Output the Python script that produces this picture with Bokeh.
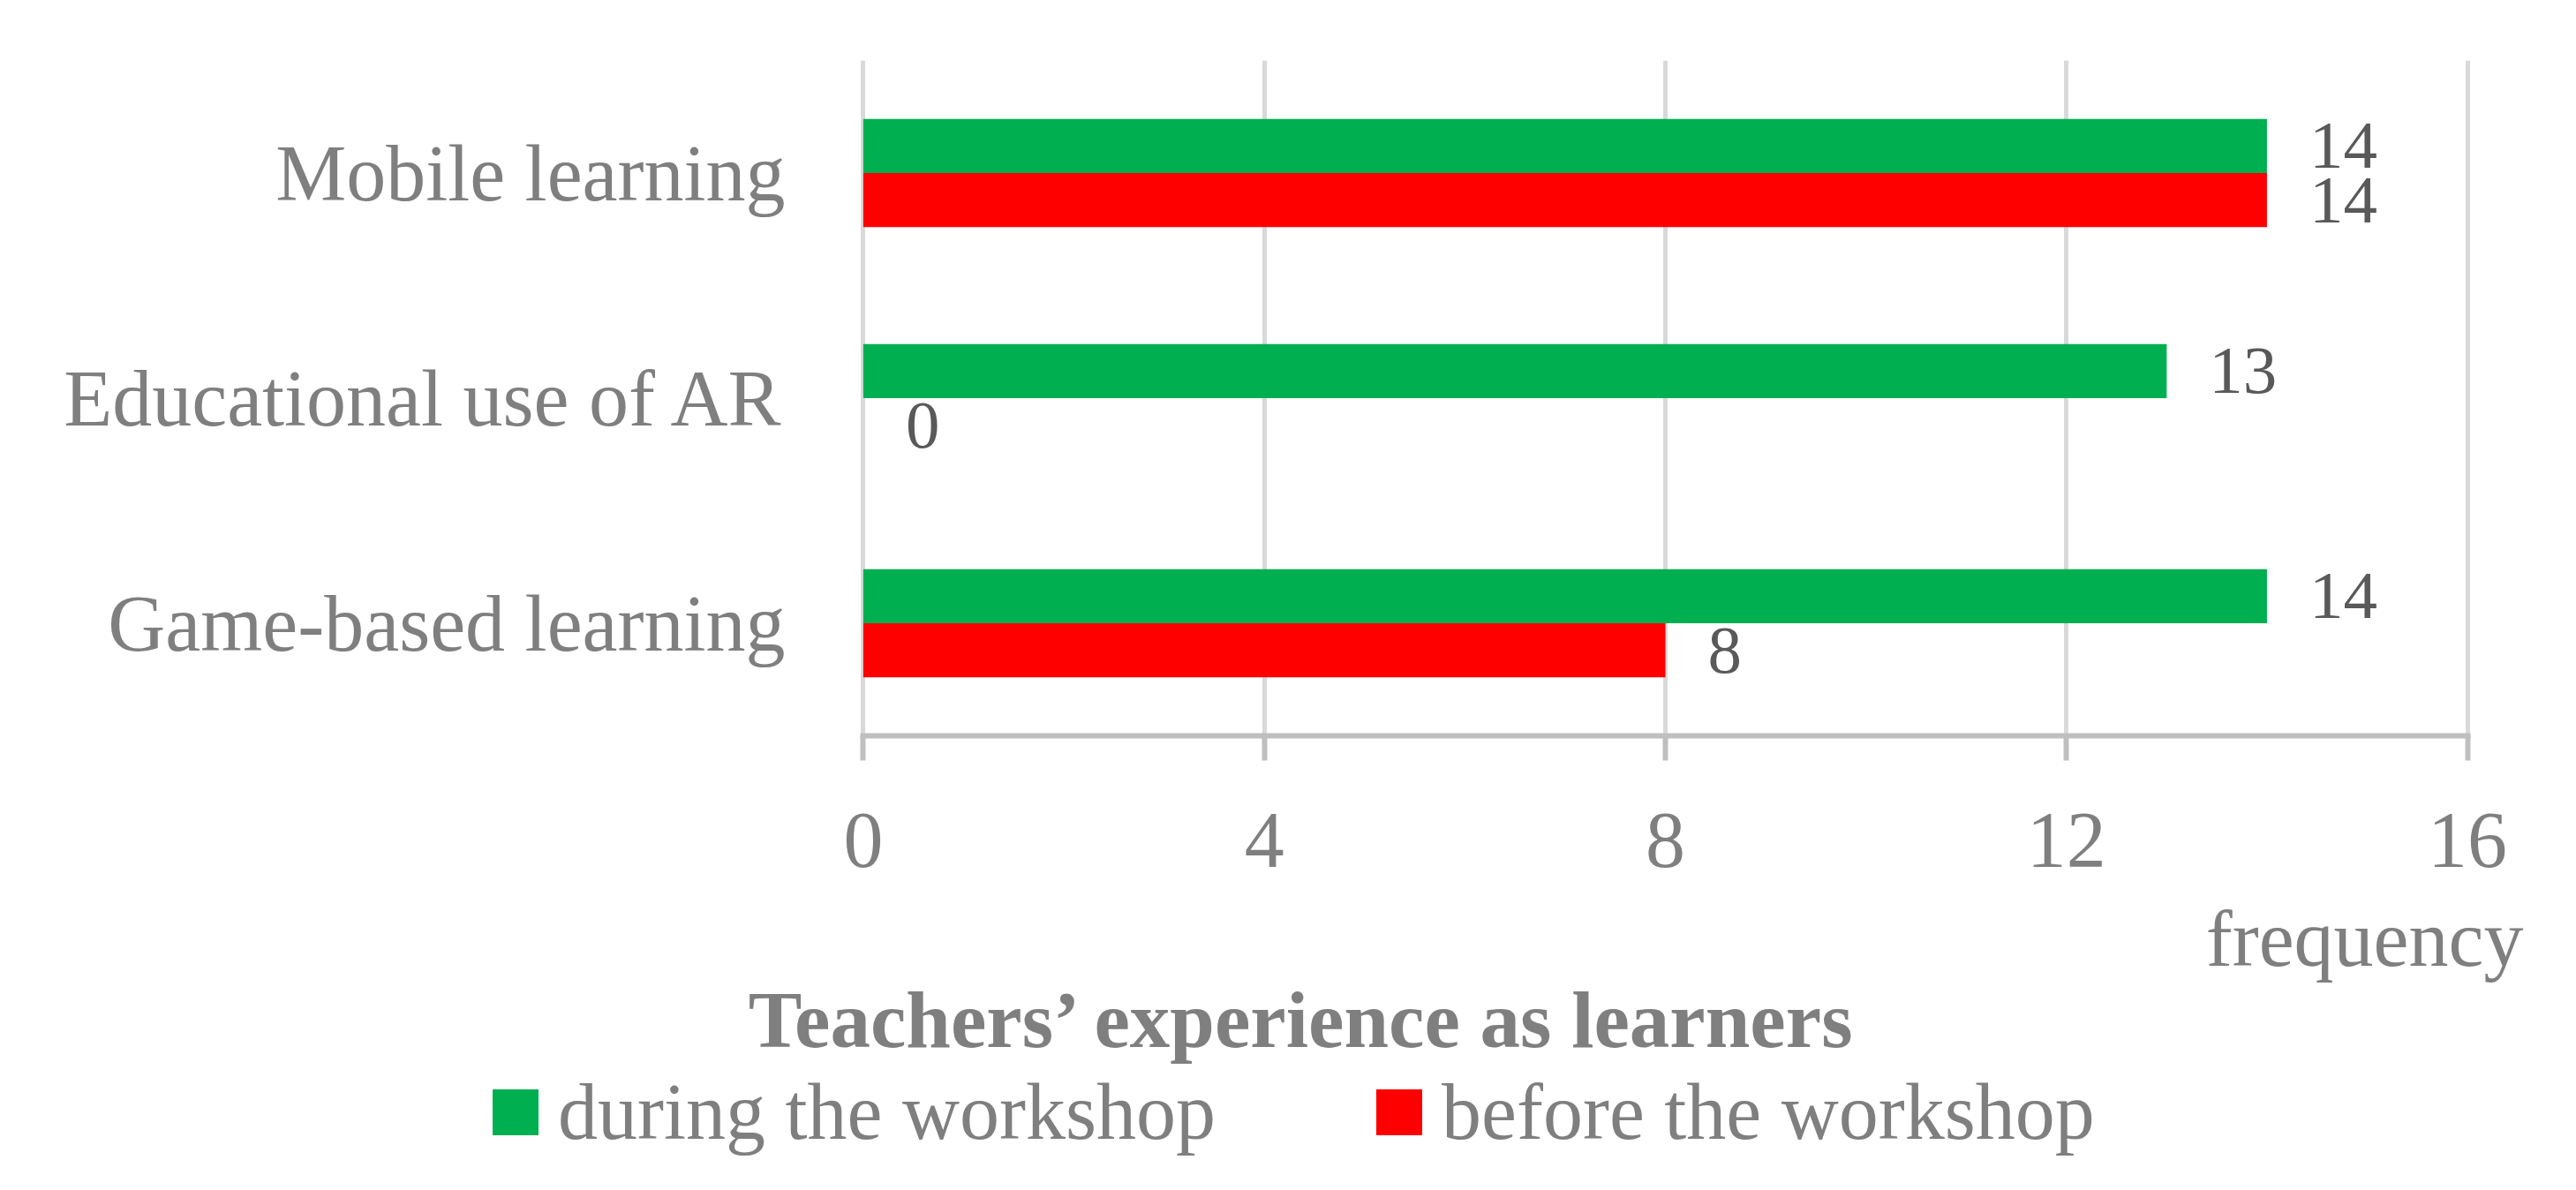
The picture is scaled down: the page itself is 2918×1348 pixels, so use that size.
from bokeh.plotting import figure
from bokeh.layouts import column
from bokeh.models import (Range1d, FactorRange, Legend, LegendItem,
                          ColumnDataSource, FixedTicker)
from bokeh.transform import dodge
from bokeh.core.properties import value
from bokeh.embed import file_html
from bokeh.resources import INLINE

# ---- data ----
categories = ["Game-based learning", "Educational use of AR", "Mobile learning"]
during = [14, 13, 14]
before = [8, 0, 14]
x_ticks = [0, 4, 8, 12, 16]
series_names = ["during the workshop", "before the workshop"]
x_label = "frequency"
title_text = "Teachers\u2019 experience as learners"

FONT = "Liberation Serif"
GREEN = "#00B050"
RED = "#FF0000"
GRAY = "#7F7F7F"
DARK = "#595959"

W = 2900
H1 = 1010
H2 = 320
DY = 27  # vertical correction of the lower panel

src = ColumnDataSource(dict(
    cat=categories, during=during, before=before,
    during_txt=[str(v) for v in during], before_txt=[str(v) for v in before]))

p = figure(width=W, height=H1,
           y_range=FactorRange(factors=categories, range_padding=0),
           x_range=Range1d(-0.03, 16.03),
           output_backend="svg", toolbar_location=None,
           min_border_left=974, min_border_right=W - 2798,
           min_border_top=68, min_border_bottom=H1 - 833)
p.frame_align = False
p.outline_line_color = None
p.background_fill_color = "white"
p.border_fill_color = "white"

OFF = 0.12
BH = 0.24
r_during = p.hbar(y=dodge("cat", OFF, range=p.y_range), left=0, right="during",
                  height=BH, fill_color=GREEN, line_color=None, source=src)
r_before = p.hbar(y=dodge("cat", -OFF, range=p.y_range), left=0, right="before",
                  height=BH, fill_color=RED, line_color=None, source=src)

for col, txt, off in (("during", "during_txt", OFF), ("before", "before_txt", -OFF)):
    p.text(x=col, y=dodge("cat", off, range=p.y_range), text=txt, source=src,
           x_offset=48, text_align="left", text_baseline="middle",
           text_font=value(FONT), text_font_size=value("77px"), text_color=DARK)

# grid
p.xgrid.ticker = FixedTicker(ticks=x_ticks)
p.xgrid.grid_line_color = "#D9D9D9"
p.xgrid.grid_line_width = 5
p.ygrid.visible = False

# x axis
xa = p.xaxis[0]
xa.ticker = FixedTicker(ticks=x_ticks)
xa.axis_line_color = "#BFBFBF"
xa.axis_line_width = 6
xa.major_tick_line_color = "#BFBFBF"
xa.major_tick_line_width = 6
xa.major_tick_out = 28
xa.major_tick_in = 0
xa.minor_tick_line_color = None
xa.major_label_text_font = FONT
xa.major_label_text_font_size = "90px"
xa.major_label_text_color = GRAY
xa.major_label_standoff = 60

# y axis
ya = p.yaxis[0]
ya.axis_line_color = None
ya.major_tick_line_color = None
ya.minor_tick_line_color = None
ya.major_tick_out = 0
ya.major_tick_in = 0
ya.major_label_text_font = FONT
ya.major_label_text_font_size = "90px"
ya.major_label_text_color = GRAY
ya.major_label_standoff = 85

# ---- lower panel: axis title, chart title, legend ----
p2 = figure(width=W, height=H2, x_range=Range1d(0, W), y_range=Range1d(0, H2),
            x_axis_location=None, y_axis_location=None,
            output_backend="svg", toolbar_location=None,
            min_border=0, min_border_left=0, min_border_right=0,
            min_border_top=0, min_border_bottom=0)
p2.frame_align = False
p2.outline_line_color = None
p2.grid.visible = False
p2.background_fill_color = "white"
p2.border_fill_color = "white"

lab_src = ColumnDataSource(dict(x=[2858], y=[H2 - (1090 - H1) + DY], t=[x_label]))
p2.text(x="x", y="y", text="t", source=lab_src, text_align="right",
        text_baseline="alphabetic", text_font=value(FONT),
        text_font_size=value("90px"), text_color=GRAY)
ttl_src = ColumnDataSource(dict(x=[1476], y=[H2 - (1182 - H1) + DY], t=[title_text]))
p2.text(x="x", y="y", text="t", source=ttl_src, text_align="center",
        text_baseline="alphabetic", text_font=value(FONT),
        text_font_size=value("91px"), text_font_style="bold", text_color=GRAY)

# invisible zero-size proxies that only carry the legend swatch colours
proxy = ColumnDataSource(dict(y=[0], l=[0], r=[0]))
lg_during = p2.hbar(y="y", left="l", right="r", height=0, source=proxy,
                    fill_color=GREEN, line_color=None)
lg_before = p2.hbar(y="y", left="l", right="r", height=0, source=proxy,
                    fill_color=RED, line_color=None)

for name, rend, lx in ((series_names[0], lg_during, 551), (series_names[1], lg_before, 1552)):
    lg = Legend(items=[LegendItem(label=name, renderers=[rend])],
                location=(lx, DY - 8), orientation="horizontal",
                glyph_width=65, glyph_height=65, label_standoff=16,
                label_text_font=FONT, label_text_font_size="90px",
                label_text_color=GRAY, border_line_color=None,
                background_fill_alpha=0, padding=0, margin=0, spacing=0)
    p2.add_layout(lg)

layout = column(p, p2, spacing=0)
open("out.html", "w").write(file_html(layout, INLINE))
